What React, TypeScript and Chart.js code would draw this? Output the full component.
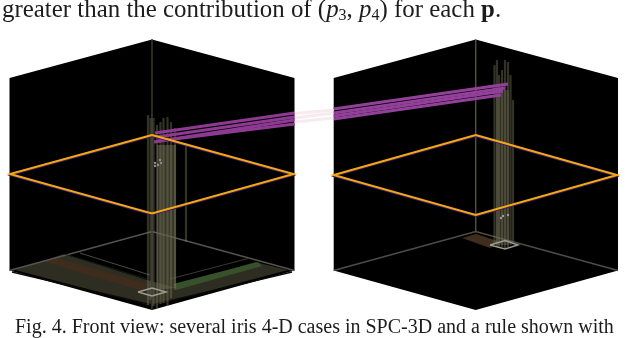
import React, { useEffect, useRef } from "react";
import { Chart, registerables } from "chart.js";

Chart.register(...registerables);

type P = [number, number];

const heading = ["greater than the contribution of (", "p", "3", ", ", "p", "4", ") for each ", "p", "."];
const caption = "Fig. 4. Front view: several iris 4-D cases in SPC-3D and a rule shown with";

// Left cube
const leftCube: P[] = [[152, 39.5], [294.5, 78], [294.5, 270.5], [152, 310], [9.5, 270.5], [9.5, 78]];
const leftRule: P[] = [[152, 135], [293.5, 174], [152, 213.5], [10, 174], [152, 135]];
const leftFloorBack: P[] = [[9.5, 270.5], [152, 231.5], [294.5, 270.5]];
const leftFloorBand: P[] = [[15, 270], [64, 254], [147, 280], [173, 287], [255, 262], [288, 270], [152, 306]];
const leftBrown: P[] = [[45, 262], [57, 258], [147, 284], [143, 291]];
const leftGreen: P[] = [[173, 284], [258, 262], [262, 266], [176, 290]];
const leftInnerA: P[] = [[80, 253], [150, 275]];
const leftInnerB: P[] = [[64, 254], [147, 279]];
const leftInnerC: P[] = [[170, 279], [250, 258]];
const leftEdge: P[] = [[12, 272], [152, 305], [292, 272]];
const leftSquare: P[] = [[138, 292], [152, 288], [166, 292], [152, 296], [138, 292]];
const leftStemXs = [148, 150.5, 153.5, 157, 160.5, 163.5, 167.5, 171, 175, 186];
const leftStemTops = [115, 118, 118, 125, 122, 118, 117, 122, 128, 143];
const leftStemBottoms = [305, 300, 306, 308, 304, 303, 306, 298, 290, 242];
const leftBand: P[] = [[157, 145], [176, 145], [176, 288], [157, 290]];
const leftDots: P[] = [[155, 163], [158, 165], [161, 163], [160, 160], [155, 166]];

// Right cube
const rightCube: P[] = [[475.7, 39.5], [618, 78], [618, 270.5], [475.7, 310], [333.7, 270.5], [333.7, 78]];
const rightRule: P[] = [[475.7, 135], [617, 175], [475.7, 215], [333.7, 175], [475.7, 135]];
const rightFloorBack: P[] = [[333.7, 270.5], [475.7, 231.5], [618, 270.5]];
const rightBrown: P[] = [[462, 238], [476, 234], [498, 241], [490, 248]];
const rightSquare: P[] = [[490, 245], [505, 240.5], [518, 245], [505, 249], [490, 245]];
const rightStemXs = [494.5, 497, 499, 502, 505, 508, 510.5, 513];
const rightStemTops = [65, 60, 75, 70, 60, 62, 75, 100];
const rightStemBottoms = [245, 247, 248, 247, 248, 247, 245, 242];
const rightBand: P[] = [[496, 90], [509, 90], [509, 245], [496, 245]];
const rightDots: P[] = [[501, 218], [503, 216], [508, 215]];

// Rule bundle running from the left cube to the right cube
const ruleStartsLeft: P[] = [[155, 133], [157, 137], [154, 142], [158, 141]];
const ruleEndsLeft: P[] = [[294.5, 113], [294.5, 117], [294.5, 120], [294.5, 124]];
const ruleStartsGap: P[] = [[294.5, 113.5], [294.5, 118], [294.5, 122]];
const ruleEndsGap: P[] = [[333.7, 110], [333.7, 113], [333.7, 118]];
const ruleStartsRight: P[] = [[333.7, 109], [333.7, 113], [333.7, 116], [333.7, 119]];
const ruleEndsRight: P[] = [[508, 84], [505, 88], [503, 91], [501, 95]];

function App() {
  const ref = useRef<HTMLCanvasElement>(null);

  useEffect(() => {
    const line = (pts: P[], color: string, width: number, extra: object = {}) => ({
      data: pts.map(([x, y]) => ({ x, y })),
      showLine: true,
      borderColor: color,
      backgroundColor: color,
      borderWidth: width,
      pointRadius: 0,
      tension: 0,
      ...extra,
    });
    const shape = (pts: P[], color: string) =>
      line([...pts, pts[0]], color, 0, { fill: "shape", backgroundColor: color });
    const stems = (xs: number[], tops: number[], bottoms: number[], color: string, width: number) =>
      xs.map((x, i) =>
        line([[x, tops[i]], [x, bottoms[i]]], color, width),
      );
    const bundle = (a: P[], b: P[], color: string, width: number) =>
      a.map((p, i) => line([p, b[i]], color, width));
    const shift = (pts: P[], dy: number): P[] => pts.map(([x, y]) => [x, y + dy]);

    const sets: any[] = [
      shape(leftCube, "#000000"),
      shape(rightCube, "#000000"),
      shape(leftFloorBand, "#2e2d22"),
      shape(leftBrown, "#3f2c1c"),
      shape(leftGreen, "#37522a"),
      line(leftEdge, "#0a0a08", 1.5),
      line(leftFloorBack, "#56544f", 1.4),
      line(leftInnerA, "#4a4a42", 1),
      line(leftInnerB, "#1a1a14", 1),
      line(leftInnerC, "#3a3a30", 1),
      shape(rightBrown, "#3f2e1d"),
      line(rightFloorBack, "#4e4d48", 1.4),
      line([[152, 39.5], [152, 310]], "#33322a", 1),
      line([[475.7, 39.5], [475.7, 231.5]], "#4f4e46", 1.5),
      shape(leftBand, "rgba(95,92,70,0.6)"),
      shape(rightBand, "rgba(95,92,70,0.45)"),
      ...stems(leftStemXs, leftStemTops, leftStemBottoms, "rgba(120,118,90,0.42)", 2.2),
      ...stems(rightStemXs, rightStemTops, rightStemBottoms, "rgba(120,118,90,0.42)", 2.2),
      ...bundle(ruleStartsGap, ruleEndsGap, "#f7ebf0", 3),
      ...bundle(ruleStartsLeft, ruleEndsLeft, "#8e3a93", 2.8),
      ...bundle(ruleStartsRight, ruleEndsRight, "#93409a", 3),
      line(shift(leftRule, 1.3), "#3c1a6e", 1.5),
      line(shift(rightRule, 1.3), "#3c1a6e", 1.5),
      line(leftRule, "#f5a90f", 2),
      line(rightRule, "#f5a90f", 2),
      line(leftSquare, "#9d9b92", 1.4),
      line(rightSquare, "#9d9b92", 1.4),
      line(leftDots, "#8d8d8d", 0, { showLine: false, pointRadius: 1.2, pointBackgroundColor: "#8d8d8d", pointBorderWidth: 0 }),
      line(rightDots, "#9a9aa0", 0, { showLine: false, pointRadius: 1.2, pointBackgroundColor: "#9a9aa0", pointBorderWidth: 0 }),
    ];
    sets.forEach((s, i) => (s.order = sets.length - i));

    const chart = new Chart(ref.current!, {
      type: "scatter",
      data: { datasets: sets },
      options: {
        animation: false,
        responsive: false,
        layout: { padding: 0, autoPadding: false },
        plugins: { legend: { display: false }, tooltip: { enabled: false } },
        scales: {
          x: { type: "linear", min: 0, max: 626, display: false },
          y: { type: "linear", min: 0, max: 338, reverse: true, display: false },
        },
      },
    });
    return () => chart.destroy();
  }, []);

  const sub: React.CSSProperties = { fontSize: 16, verticalAlign: "-3px", lineHeight: 0 };
  return (
    <div style={{ position: "absolute", left: 0, top: 0, width: 626, height: 338, overflow: "hidden", background: "#fff" }}>
      <canvas ref={ref} width={626} height={338} style={{ position: "absolute", left: 0, top: 0, display: "block" }} />
      <div style={{ position: "absolute", left: 2, top: -5, font: "24.9px 'Liberation Serif'", color: "#1c1c1c", whiteSpace: "pre" }}>
        {heading[0]}
        <i>{heading[1]}</i>
        <span style={sub}>{heading[2]}</span>
        {heading[3]}
        <i>{heading[4]}</i>
        <span style={sub}>{heading[5]}</span>
        {heading[6]}
        <b>{heading[7]}</b>
        {heading[8]}
      </div>
      <div style={{ position: "absolute", left: 15, top: 315, font: "20px 'Liberation Serif'", color: "#1c1c1c", whiteSpace: "pre" }}>
        {caption}
      </div>
    </div>
  );
}

export default App;
